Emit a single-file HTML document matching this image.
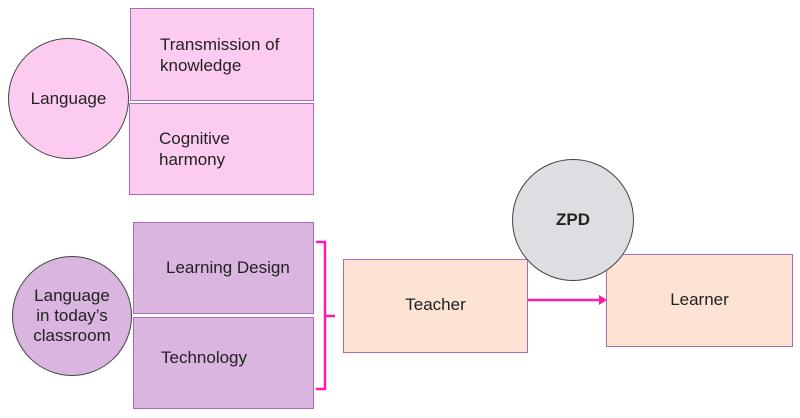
<!DOCTYPE html>
<html><head><meta charset="utf-8"><style>
body{margin:0;width:800px;height:418px;background:#fff;position:relative;overflow:hidden;font-family:"Liberation Sans",sans-serif;color:#222;}
.b{position:absolute;box-sizing:border-box;border:1px solid #a86cb8;display:flex;align-items:center;font-size:17px;line-height:21px;}
.c{position:absolute;box-sizing:border-box;border:1px solid #444;border-radius:50%;display:flex;align-items:center;justify-content:center;text-align:center;font-size:17px;line-height:20px;}
</style></head><body>
<div class="b" style="left:130px;top:8px;width:184px;height:93px;background:#fcccf0;padding-left:29px">Transmission of<br>knowledge</div>
<div class="b" style="left:129px;top:103px;width:185px;height:92px;background:#fcccf0;padding-left:29px">Cognitive<br>harmony</div>
<div class="c" style="left:8px;top:38px;width:121px;height:121px;background:#fcccf0">Language</div>
<div class="b" style="left:133px;top:222px;width:181px;height:92px;background:#d9b5df;padding-left:32px;padding-bottom:2px">Learning Design</div>
<div class="b" style="left:133px;top:317px;width:181px;height:92px;background:#d9b5df;padding-left:27px;padding-bottom:12px">Technology</div>
<div class="c" style="left:12px;top:256px;width:120px;height:120px;background:#d9b5df">Language<br>in today’s<br>classroom</div>
<svg style="position:absolute;left:0;top:0" width="800" height="418">
<path d="M316 242 H325 V389 H316 M325 316 H335" fill="none" stroke="#ff1aaa" stroke-width="2.5"/>
<line x1="527" y1="300" x2="600" y2="300" stroke="#ff1aaa" stroke-width="2.5"/>
<polygon points="599,295 607,300 599,305" fill="#ff1aaa"/>
</svg>
<div class="b" style="left:343px;top:259px;width:185px;height:94px;background:#fde3d4;justify-content:center;padding-bottom:4px">Teacher</div>
<div class="b" style="left:606px;top:254px;width:187px;height:93px;background:#fde3d4;justify-content:center;padding-top:0px;padding-bottom:2px">Learner</div>
<div class="c" style="left:512px;top:159px;width:122px;height:122px;background:#dcdee1;font-weight:bold;">ZPD</div>
</body></html>
